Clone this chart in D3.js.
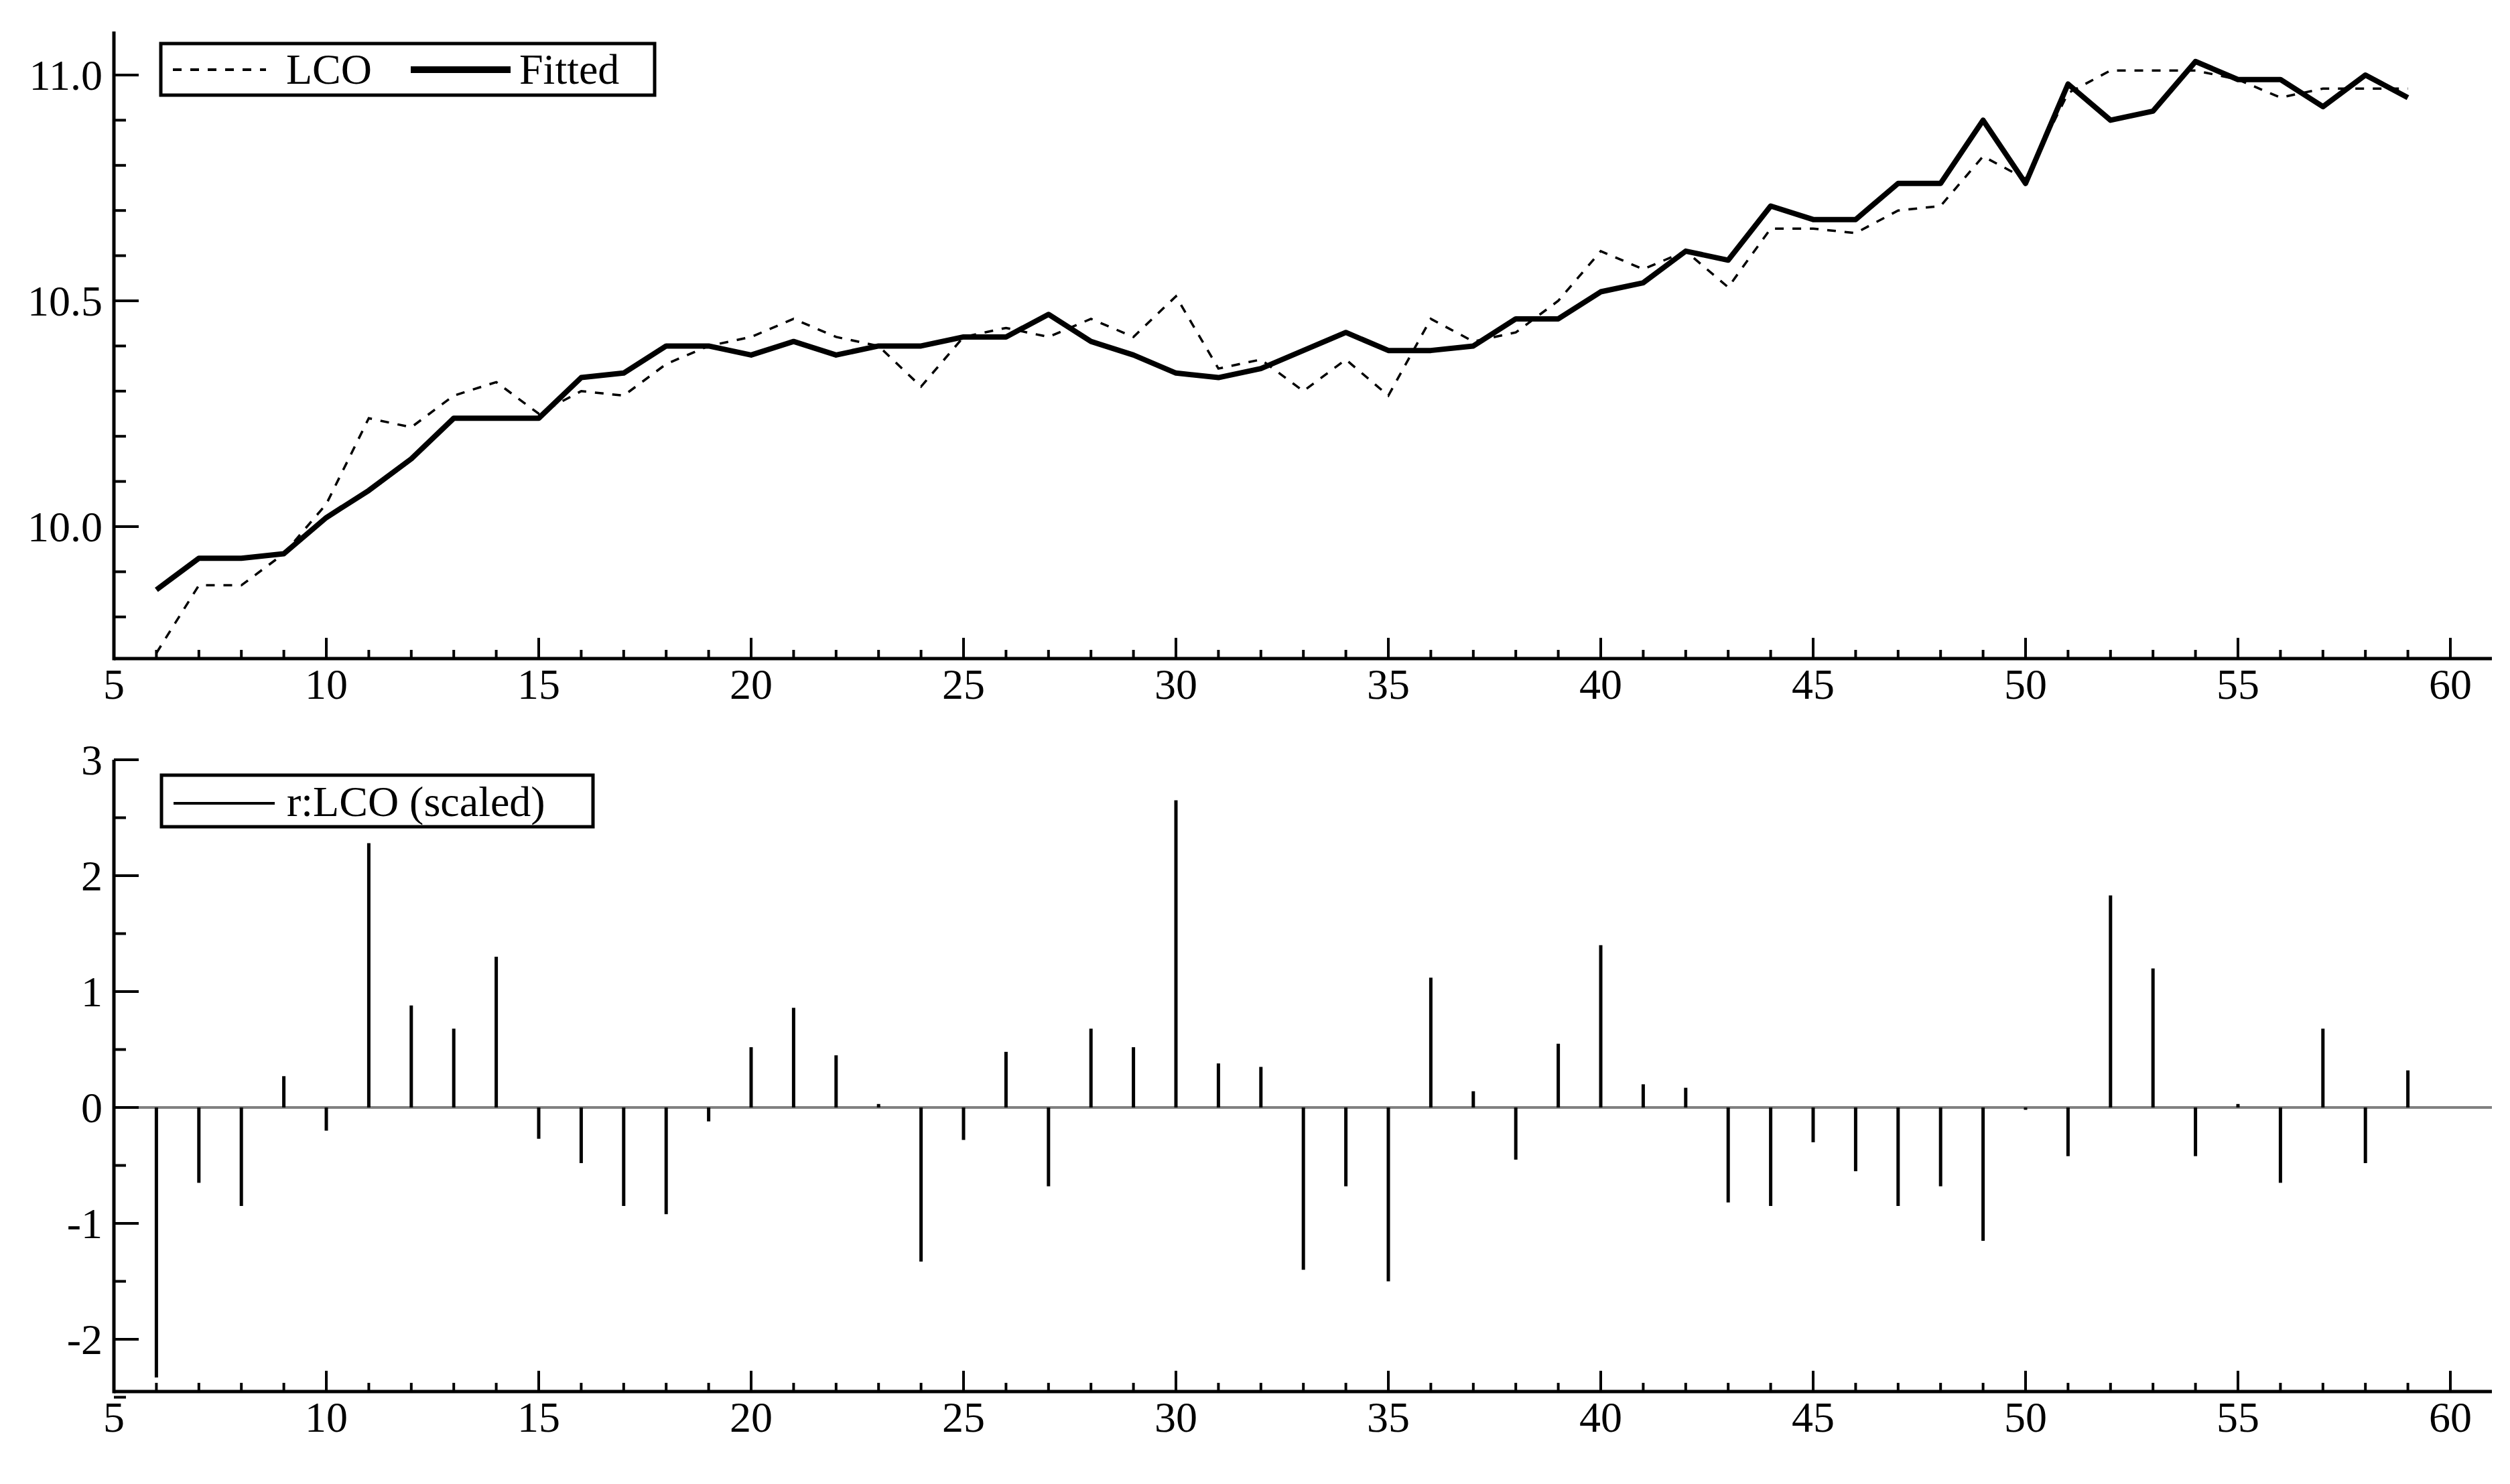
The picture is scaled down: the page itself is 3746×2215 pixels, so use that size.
<!DOCTYPE html>
<html><head><meta charset="utf-8">
<script src="https://cdn.jsdelivr.net/npm/d3@7"></script>
<style>body{margin:0;background:#fff}text{font-family:"Liberation Serif","DejaVu Serif",serif}</style>
</head><body>
<svg id="chart" width="3746" height="2215"></svg>
<script>
const obs = d3.range(6, 60);
const lco = [9.72,9.87,9.87,9.94,10.05,10.24,10.22,10.29,10.32,10.25,10.30,10.29,10.36,10.40,10.42,10.46,10.42,10.40,10.31,10.42,
  10.44,10.42,10.46,10.42,10.51,10.35,10.37,10.30,10.37,10.29,10.46,10.41,10.43,10.50,10.61,10.57,10.61,10.53,10.66,10.66,
  10.65,10.70,10.71,10.82,10.77,10.96,11.01,11.01,11.01,10.99,10.95,10.97,10.97,10.97];
const fitted = [9.86,9.93,9.93,9.94,10.02,10.08,10.15,10.24,10.24,10.24,10.33,10.34,10.40,10.40,10.38,10.41,10.38,10.40,10.40,10.42,
  10.42,10.47,10.41,10.38,10.34,10.33,10.35,10.39,10.43,10.39,10.39,10.40,10.46,10.46,10.52,10.54,10.61,10.59,10.71,10.68,
  10.68,10.76,10.76,10.90,10.76,10.98,10.90,10.92,11.03,10.99,10.99,10.93,11.00,10.95];
const resid = [-2.33,-0.65,-0.85,0.27,-0.2,2.28,0.88,0.68,1.3,-0.27,-0.48,-0.85,-0.92,-0.12,0.52,0.86,0.45,0.03,-1.33,-0.28,
  0.48,-0.68,0.68,0.52,2.65,0.38,0.35,-1.4,-0.68,-1.5,1.12,0.14,-0.45,0.55,1.4,0.2,0.17,-0.82,-0.85,-0.3,
  -0.55,-0.85,-0.68,-1.15,-0.02,-0.42,1.83,1.2,-0.42,0.03,-0.65,0.68,-0.48,0.32];
const topTicks = [10.0, 10.5, 11.0];
const botTicks = [-2, -1, 0, 1, 2, 3];
const xTicks = d3.range(5, 65, 5);

const svg = d3.select("#chart");
const x = d3.scaleLinear().domain([5, 60]).range([170, 3657]);
const xRight = 3719;
const yTop = d3.scaleLinear().domain([10.0, 11.0]).range([786, 112]);
const yBot = d3.scaleLinear().domain([0, 3]).range([1653, 1134]);

function frame(y, yMin, yMax, majors, minorStep, fmt, axisY, topY) {
  const g = svg.append("g");
  // y axis ticks (inside)
  const minors = d3.range(Math.ceil(yMin / minorStep), Math.floor(yMax / minorStep) + 1).map(d => d * minorStep);
  g.selectAll("line.ym").data(minors).enter().append("line")
    .attr("x1", x(5)).attr("x2", x(5) + 18).attr("y1", d => y(d)).attr("y2", d => y(d))
    .attr("stroke", "#000").attr("stroke-width", 4);
  g.selectAll("line.yM").data(majors).enter().append("line")
    .attr("x1", x(5)).attr("x2", x(5) + 37).attr("y1", d => y(d)).attr("y2", d => y(d))
    .attr("stroke", "#000").attr("stroke-width", 4);
  g.selectAll("text.yl").data(majors).enter().append("text")
    .attr("x", 153).attr("y", d => y(d) + 22).attr("text-anchor", "end")
    .attr("font-size", 64).text(fmt);
  // x axis ticks (inside, up)
  g.selectAll("line.xm").data(d3.range(6, 61)).enter().append("line")
    .attr("x1", d => x(d)).attr("x2", d => x(d)).attr("y1", axisY).attr("y2", axisY - 13)
    .attr("stroke", "#000").attr("stroke-width", 4);
  g.selectAll("line.xM").data(xTicks.filter(d => d > 5)).enter().append("line")
    .attr("x1", d => x(d)).attr("x2", d => x(d)).attr("y1", axisY).attr("y2", axisY - 31)
    .attr("stroke", "#000").attr("stroke-width", 4);
  g.selectAll("text.xl").data(xTicks).enter().append("text")
    .attr("x", d => x(d)).attr("y", axisY + 60).attr("text-anchor", "middle")
    .attr("font-size", 64).text(d => d);
  g.append("line").attr("x1", x(5)).attr("x2", x(5)).attr("y1", topY).attr("y2", axisY + 2.5)
    .attr("stroke", "#000").attr("stroke-width", 5);
  g.append("line").attr("x1", x(5)).attr("x2", xRight).attr("y1", axisY).attr("y2", axisY)
    .attr("stroke", "#000").attr("stroke-width", 5);
}

// top panel
frame(yTop, 9.71, 11.09, topTicks, 0.1, d => d.toFixed(1), 983, 47);
const line = d3.line().x((d, i) => x(obs[i])).y(d => yTop(d));
svg.append("path").attr("d", line(lco)).attr("fill", "none").attr("stroke", "#000")
  .attr("stroke-width", 3.5).attr("stroke-dasharray", "13,13");
svg.append("path").attr("d", line(fitted)).attr("fill", "none").attr("stroke", "#000")
  .attr("stroke-width", 8).attr("stroke-linejoin", "round");
// top legend
svg.append("rect").attr("x", 240).attr("y", 65).attr("width", 737).attr("height", 77)
  .attr("fill", "#fff").attr("stroke", "#000").attr("stroke-width", 5);
svg.append("line").attr("x1", 258).attr("x2", 397).attr("y1", 104).attr("y2", 104)
  .attr("stroke", "#000").attr("stroke-width", 4).attr("stroke-dasharray", "13,13");
svg.append("text").attr("x", 427).attr("y", 125).attr("font-size", 64).text("LCO");
svg.append("line").attr("x1", 613).attr("x2", 762).attr("y1", 104).attr("y2", 104)
  .attr("stroke", "#000").attr("stroke-width", 10);
svg.append("text").attr("x", 775).attr("y", 125).attr("font-size", 64).text("Fitted");

// bottom panel
svg.append("line").attr("x1", x(5)).attr("x2", xRight).attr("y1", yBot(0)).attr("y2", yBot(0))
  .attr("stroke", "#808080").attr("stroke-width", 4);
frame(yBot, -2.5, 3, botTicks, 0.5, d => d, 2077, 1134);
svg.selectAll("line.bar").data(resid).enter().append("line")
  .attr("x1", (d, i) => x(obs[i])).attr("x2", (d, i) => x(obs[i]))
  .attr("y1", yBot(0)).attr("y2", d => yBot(d))
  .attr("stroke", "#000").attr("stroke-width", 5);
svg.append("rect").attr("x", 241).attr("y", 1157).attr("width", 644).attr("height", 77)
  .attr("fill", "#fff").attr("stroke", "#000").attr("stroke-width", 5);
svg.append("line").attr("x1", 259).attr("x2", 410).attr("y1", 1199).attr("y2", 1199)
  .attr("stroke", "#000").attr("stroke-width", 4);
svg.append("text").attr("x", 428).attr("y", 1218).attr("font-size", 64).text("r:LCO (scaled)");
</script>
</body></html>
